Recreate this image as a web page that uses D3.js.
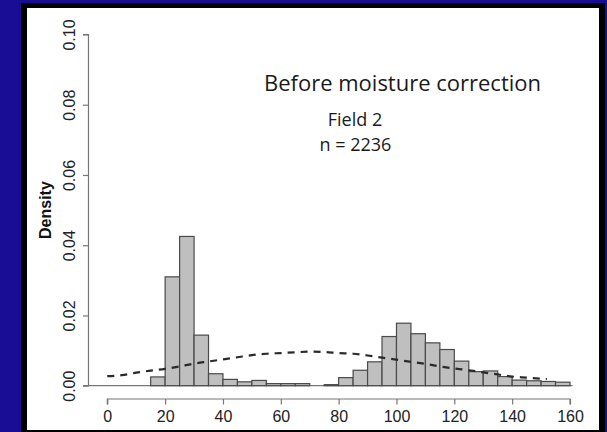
<!DOCTYPE html>
<html><head><meta charset="utf-8">
<script src="https://cdn.jsdelivr.net/npm/d3@7/dist/d3.min.js"></script>
<style>html,body{margin:0;padding:0;background:#1a0d95;}svg{display:block;}</style>
</head><body>
<script>
// Histogram bins (left edges, width 5) and densities
const binStarts = [15,20,25,30,35,40,45,50,55,60,65,70,75,80,85,90,95,100,105,110,115,120,125,130,135,140,145,150,155];
const binDensity = [0.0025,0.031,0.0425,0.0144,0.0034,0.0018,0.0011,0.0015,0.0006,0.0006,0.0006,0,0.0003,0.0023,0.0044,0.0068,0.0140,0.0178,0.0148,0.0122,0.0103,0.0070,0.0040,0.0042,0.0026,0.0016,0.0014,0.0012,0.0010];
const binWidth = 5;
// Dashed curve
const curveX = [0,5,10,15,20,25,30,35,40,45,50,55,60,65,70,75,80,85,90,95,100,105,110,115,120,125,130,135,140,145,150,152];
const curveY = [0.0027,0.0030,0.0037,0.0043,0.0048,0.0055,0.0063,0.0069,0.0075,0.0081,0.0087,0.0091,0.0093,0.0095,0.0097,0.0096,0.0093,0.0091,0.0086,0.0080,0.0074,0.0068,0.0062,0.0055,0.0049,0.0044,0.0038,0.0032,0.0026,0.0023,0.0020,0.0019];
const xTicks = [0,20,40,60,80,100,120,140,160];
const yTicks = [0,0.02,0.04,0.06,0.08,0.10];
const yLabel = "Density";
const title = "Before moisture correction";
const subtitle1 = "Field 2";
const subtitle2 = "n = 2236";

const W = 607, H = 432;
const svg = d3.select("body").append("svg").attr("width", W).attr("height", H);
svg.append("rect").attr("width", W).attr("height", H).attr("fill", "#1a0d95");
svg.append("rect").attr("x", 21).attr("y", 3).attr("width", 584).attr("height", 440).attr("fill", "#000");
svg.append("rect").attr("x", 27).attr("y", 8).attr("width", 572).attr("height", 422).attr("fill", "#fff");

const x = d3.scaleLinear().domain([0, 160]).range([107.3, 570]);
const y = d3.scaleLinear().domain([0, 0.10]).range([385.7, 34.5]);

// baseline
svg.append("line").attr("x1", 88).attr("x2", x(160) + 2.5)
  .attr("y1", y(0)).attr("y2", y(0)).attr("stroke", "#777").attr("stroke-width", 1.2);

// bars
svg.append("g").selectAll("rect").data(binStarts.map((s, i) => ({s, d: binDensity[i]})))
  .join("rect")
  .attr("x", d => x(d.s)).attr("width", d => x(d.s + binWidth) - x(d.s))
  .attr("y", d => y(d.d)).attr("height", d => y(0) - y(d.d))
  .attr("fill", d => d.d > 0 ? "#bfbfbf" : "none")
  .attr("stroke", d => d.d > 0 ? "#4a4a4a" : "none").attr("stroke-width", 1.2);

// dashed curve
const line = d3.line().x(d => x(d[0])).y(d => y(d[1])).curve(d3.curveMonotoneX);
svg.append("path").datum(curveX.map((v, i) => [v, curveY[i]]))
  .attr("d", line).attr("fill", "none").attr("stroke", "#2a2a2a")
  .attr("stroke-width", 2.2).attr("stroke-dasharray", "7,6");

// y axis
const yAxis = d3.axisLeft(y).tickValues(yTicks).tickFormat(d3.format(".2f")).tickSize(5.5);
const gy = svg.append("g").attr("transform", "translate(88.5,0)").call(yAxis);
gy.select(".domain").attr("stroke", "#777").attr("stroke-width", 1.2).attr("d", `M-5.5,${y(0.10)}H0V${y(0)}H-5.5`);
gy.selectAll(".tick line").attr("stroke", "#777").attr("stroke-width", 1.2);
gy.selectAll(".tick text").attr("font-family", "Liberation Sans, Arial, sans-serif").attr("font-size", 16)
  .attr("fill", "#222").attr("text-anchor", "middle").attr("dy", null)
  .attr("transform", null).attr("x", null).attr("y", null)
  .each(function(d) {
    d3.select(this).attr("transform", `translate(-14,0) rotate(-90)`).attr("dy", "0").attr("y", 0);
  });

// x axis
const xAxis = d3.axisBottom(x).tickValues(xTicks).tickFormat(d3.format("d")).tickSize(5.5);
const gx = svg.append("g").attr("transform", "translate(0,399)").call(xAxis);
gx.select(".domain").attr("stroke", "#777").attr("stroke-width", 1.2).attr("d", `M${x(0)},5.5V0H${x(160)}V5.5`);
gx.selectAll(".tick line").attr("stroke", "#777").attr("stroke-width", 1.2);
gx.selectAll(".tick text").attr("font-family", "Liberation Sans, Arial, sans-serif").attr("font-size", 16)
  .attr("fill", "#222").attr("y", 22.5).attr("dy", 0);

// y label
svg.append("text").attr("transform", `translate(51,${(y(0) + y(0.1)) / 2}) rotate(-90)`)
  .attr("text-anchor", "middle").attr("font-family", "Liberation Sans, Arial, sans-serif")
  .attr("font-weight", "bold").attr("font-size", 16).attr("fill", "#111").text(yLabel);

// titles
svg.append("text").attr("x", 402.5).attr("y", 90.5).attr("text-anchor", "middle")
  .attr("font-family", "Open Sans, sans-serif").attr("font-size", 22).attr("fill", "#1a1a1a").text(title);
svg.append("text").attr("x", 355).attr("y", 125.5).attr("text-anchor", "middle")
  .attr("font-family", "Open Sans, sans-serif").attr("font-size", 18).attr("fill", "#1a1a1a").text(subtitle1);
svg.append("text").attr("x", 355.5).attr("y", 150.5).attr("text-anchor", "middle")
  .attr("font-family", "Open Sans, sans-serif").attr("font-size", 18).attr("fill", "#1a1a1a").text(subtitle2);
</script>
</body></html>
